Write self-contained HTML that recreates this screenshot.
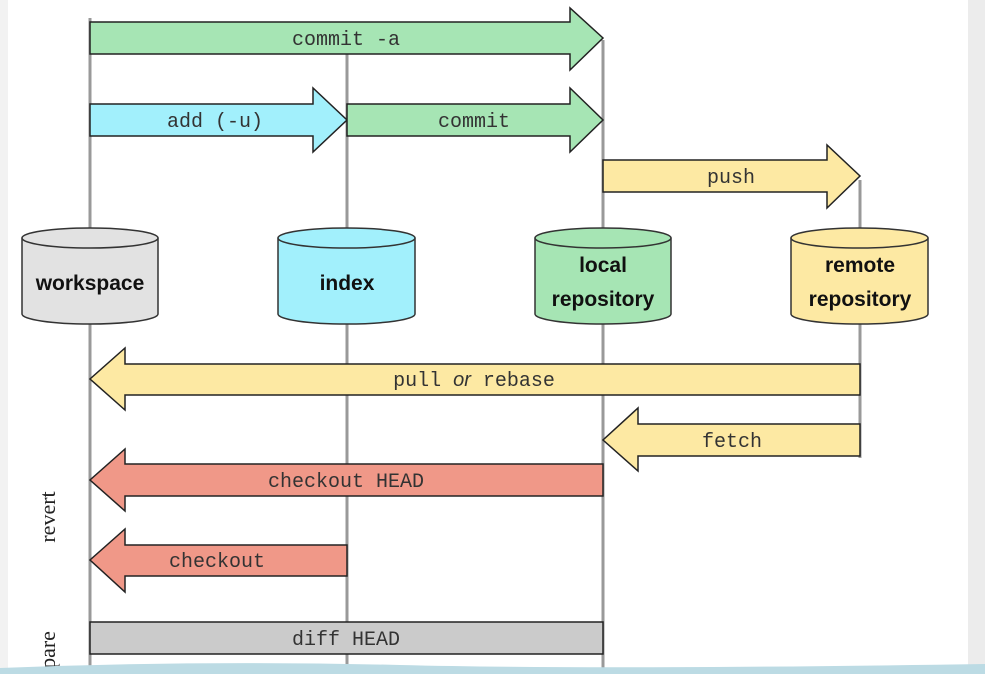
<!DOCTYPE html><html><head><style>body{margin:0;background:#fff}svg{display:block}</style></head><body>
<svg width="985" height="674" viewBox="0 0 985 674" xmlns="http://www.w3.org/2000/svg">
<rect x="0" y="0" width="8" height="674" fill="#f2f2f2"/>
<rect x="968" y="0" width="17" height="674" fill="#ececec"/>
<g stroke="#999" stroke-width="3">
<line x1="90" y1="18" x2="90" y2="674"/><line x1="347" y1="40" x2="347" y2="674"/><line x1="603" y1="40" x2="603" y2="674"/><line x1="860" y1="180" x2="860" y2="458"/>
</g>
<g stroke="#222" stroke-width="1.5" font-family="Liberation Mono, monospace" font-size="20">
<polygon points="90,22 570,22 570,8 603,38 570,70 570,54 90,54" fill="#a6e5b4"/>
<polygon points="90,104 313,104 313,88 347,120 313,152 313,136 90,136" fill="#a2f0fc"/>
<polygon points="347,104 570,104 570,88 603,120 570,152 570,136 347,136" fill="#a6e5b4"/>
<polygon points="603,160 827,160 827,145 860,176 827,208 827,192 603,192" fill="#fde9a3"/>
<polygon points="860,364 125,364 125,348 90,379 125,410 125,395 860,395" fill="#fde9a3"/>
<polygon points="860,424 638,424 638,408 603,440 638,471 638,456 860,456" fill="#fde9a3"/>
<polygon points="603,464 125,464 125,449 90,480 125,511 125,496 603,496" fill="#f09888"/>
<polygon points="347,545 125,545 125,529 90,560 125,592 125,576 347,576" fill="#f09888"/>
<rect x="90" y="622" width="513" height="32" fill="#cbcbcb"/>
<g stroke="none" fill="#333" text-anchor="middle">
<text x="346" y="45">commit -a</text>
<text x="215" y="127">add (-u)</text>
<text x="474" y="127">commit</text>
<text x="731" y="183">push</text>
<text x="474" y="386">pull <tspan font-family="Liberation Sans, sans-serif" font-style="italic">or</tspan> rebase</text>
<text x="732" y="447">fetch</text>
<text x="346" y="487">checkout HEAD</text>
<text x="217" y="567">checkout</text>
<text x="346" y="645">diff HEAD</text>
</g>
</g>
<g stroke="#333" stroke-width="1.5" font-family="Liberation Sans, sans-serif" font-weight="bold" font-size="21" text-anchor="middle">
<path d="M22,238 V314 A68,10 0 0 0 158,314 V238" fill="#e2e2e2"/><ellipse cx="90" cy="238" rx="68" ry="10" fill="#e2e2e2"/>
<path d="M278,238 V314 A68.5,10 0 0 0 415,314 V238" fill="#a2f0fc"/><ellipse cx="346.5" cy="238" rx="68.5" ry="10" fill="#a2f0fc"/>
<path d="M535,238 V314 A68,10 0 0 0 671,314 V238" fill="#a6e5b4"/><ellipse cx="603" cy="238" rx="68" ry="10" fill="#a6e5b4"/>
<path d="M791,238 V314 A68.5,10 0 0 0 928,314 V238" fill="#fde9a3"/><ellipse cx="859.5" cy="238" rx="68.5" ry="10" fill="#fde9a3"/>
<g stroke="none" fill="#111">
<text x="90" y="290">workspace</text>
<text x="347" y="290">index</text>
<text x="603" y="272">local</text><text x="603" y="306">repository</text>
<text x="860" y="272">remote</text><text x="860" y="306">repository</text>
</g>
</g>
<g font-family="Liberation Serif, serif" font-size="22" fill="#222">
<text transform="translate(55,517) rotate(-90)" text-anchor="middle">revert</text>
<text transform="translate(55,650) rotate(-90)" text-anchor="middle">pare</text>
</g>
<path d="M0,668 Q200,660 400,665 T985,664 V674 H0Z" fill="#bcdbe4"/>
</svg>
</body></html>
